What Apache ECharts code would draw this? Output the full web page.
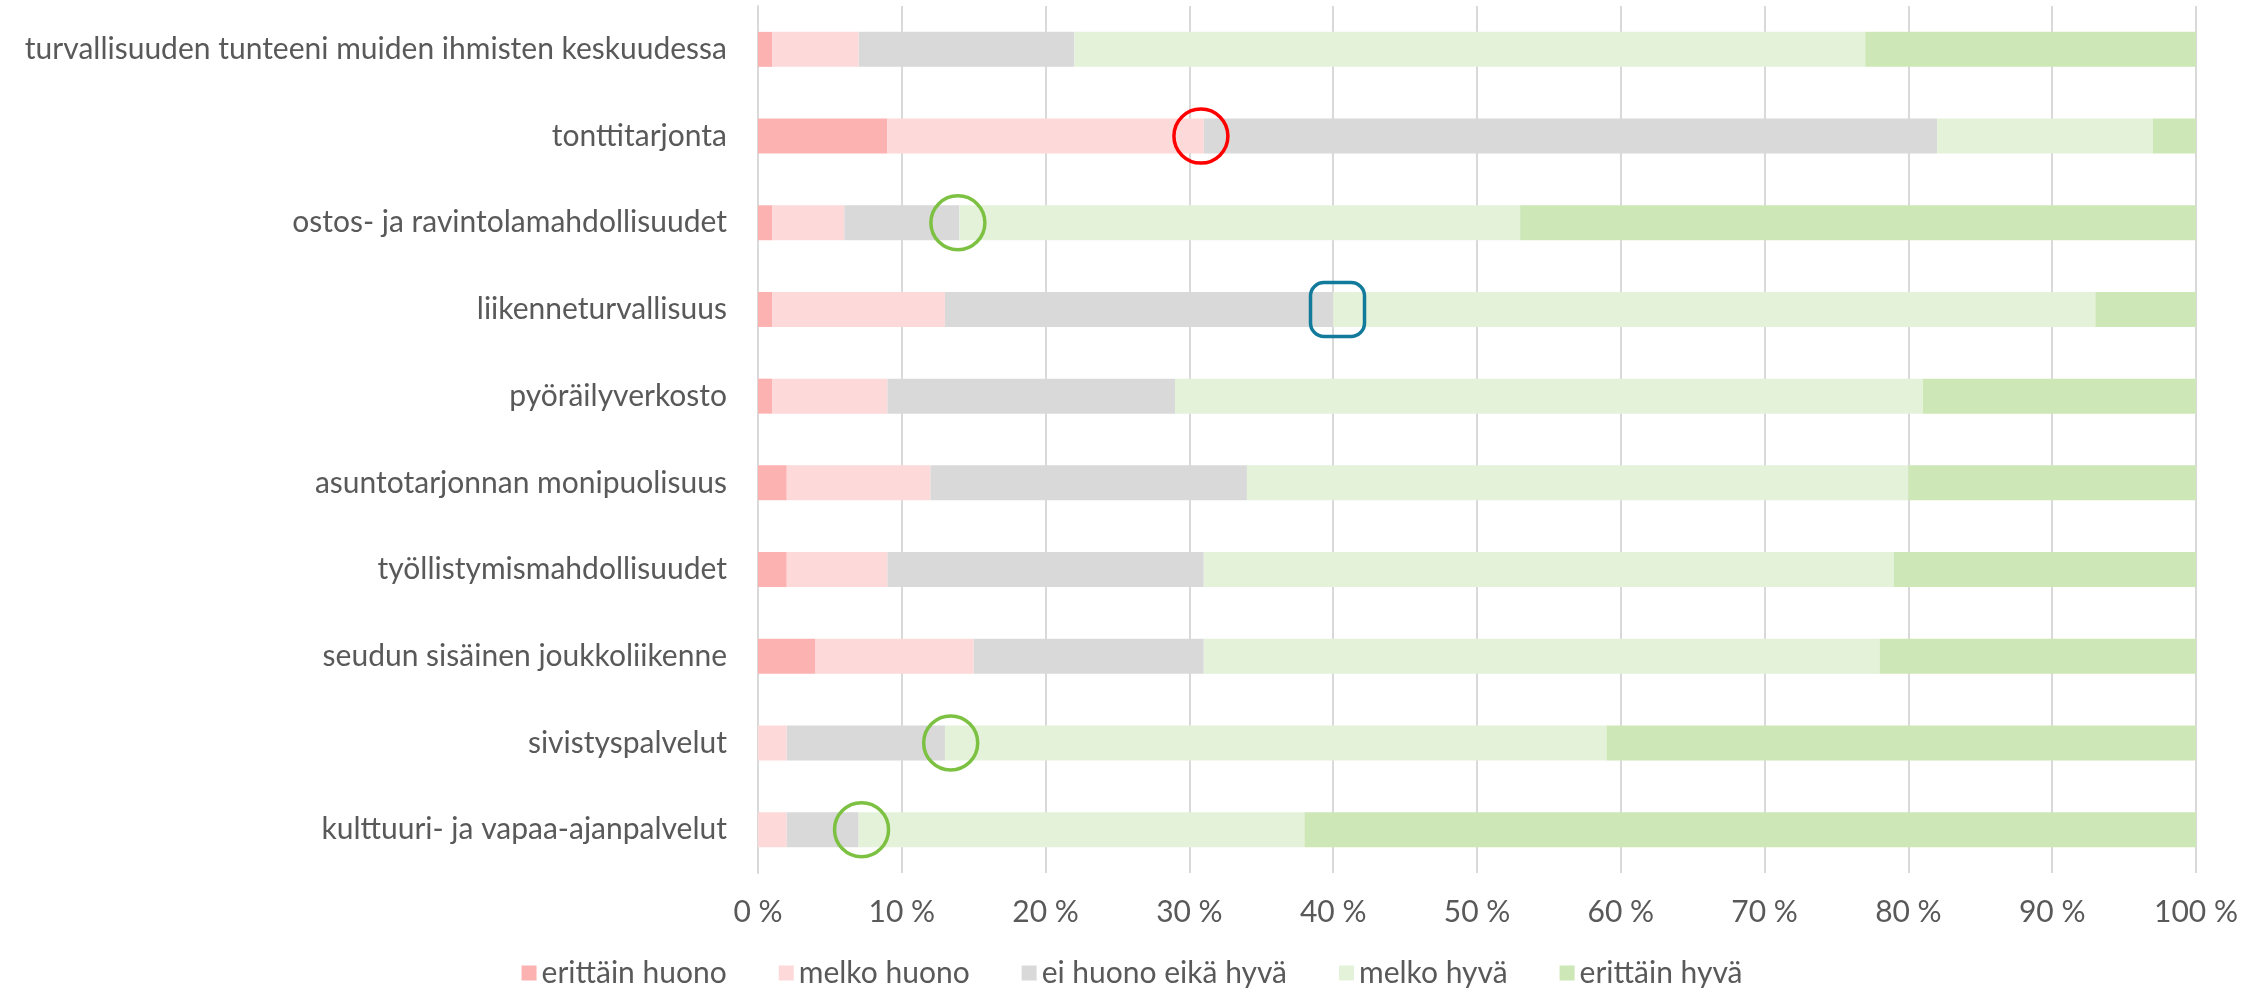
<!DOCTYPE html>
<html>
<head>
<meta charset="utf-8">
<script src="https://cdn.jsdelivr.net/npm/echarts@6/dist/echarts.min.js"></script>
<style>
  html, body { margin: 0; padding: 0; background: #fff; }
  #chart { width: 2264px; height: 990px; }
</style>
</head>
<body>
<div id="chart"></div>
<script>
// kategoriat ylhäältä alas
var categories = [
  'turvallisuuden tunteeni muiden ihmisten keskuudessa',
  'tonttitarjonta',
  'ostos- ja ravintolamahdollisuudet',
  'liikenneturvallisuus',
  'pyöräilyverkosto',
  'asuntotarjonnan monipuolisuus',
  'työllistymismahdollisuudet',
  'seudun sisäinen joukkoliikenne',
  'sivistyspalvelut',
  'kulttuuri- ja vapaa-ajanpalvelut'
]

// osuudet prosentteina
var erittainHuono = [1, 9, 1, 1, 1, 2, 2, 4, 0, 0]
var melkoHuono    = [6, 22, 5, 12, 8, 10, 7, 11, 2, 2]
var eiHuonoEikaHyva = [15, 51, 8, 27, 20, 22, 22, 16, 11, 5]
var melkoHyva     = [55, 15, 39, 53, 52, 46, 48, 47, 46, 31]
var erittainHyva  = [23, 3, 47, 7, 19, 20, 21, 22, 41, 62]

var xTicks = [0, 10, 20, 30, 40, 50, 60, 70, 80, 90, 100]

// merkinnät: [x-arvo, kategoria, muoto, väri]
var marks = [
  [30.8, 'tonttitarjonta', 'circle', '#FF0000'],
  [13.9, 'ostos- ja ravintolamahdollisuudet', 'circle', '#7DC142'],
  [40.3, 'liikenneturvallisuus', 'roundRect', '#127A9A'],
  [13.4, 'sivistyspalvelut', 'circle', '#7DC142'],
  [7.2, 'kulttuuri- ja vapaa-ajanpalvelut', 'circle', '#7DC142']
]

var font = 'Lato, "Open Sans", sans-serif'
var colors = {
  'erittäin huono': '#FDB2B2',
  'melko huono': '#FDD9D9',
  'ei huono eikä hyvä': '#D9D9D9',
  'melko hyvä': '#E5F2DA',
  'erittäin hyvä': '#CDE7B6'
}

function serie(name, data) {
  return {
    name: name,
    type: 'bar',
    stack: 'total',
    barWidth: 35,
    data: data,
    itemStyle: { color: colors[name] },
    emphasis: { disabled: true }
  }
}

var chart = echarts.init(document.getElementById('chart'))
var seriesList = [
  serie('erittäin huono', erittainHuono),
  serie('melko huono', melkoHuono),
  serie('ei huono eikä hyvä', eiHuonoEikaHyva),
  serie('melko hyvä', melkoHyva),
  serie('erittäin hyvä', erittainHyva)
]

// ympyrät ja laatikko piirretään viimeisen sarjan markPointeina
seriesList[4].markPoint = {
  silent: true,
  animation: false,
  label: { show: false },
  data: marks.map(function (m) {
    return {
      coord: [m[0], m[1]],
      symbol: m[2],
      symbolSize: 54,
      itemStyle: {
        color: 'rgba(0,0,0,0)',
        borderColor: m[3],
        borderWidth: 3.5
      }
    }
  })
}

var option = {
  animation: false,
  textStyle: { fontFamily: font },
  legend: {
    data: Object.keys(colors),
    bottom: -3,
    left: 'center',
    itemWidth: 15,
    itemHeight: 15,
    itemGap: 52,
    icon: 'rect',
    textStyle: { color: '#595959', fontSize: 30, fontFamily: font }
  },
  grid: {
    left: 758,
    right: 68,
    top: 6,
    bottom: 117
  },
  xAxis: {
    type: 'value',
    min: 0,
    max: 100,
    interval: 10,
    axisLine: { show: false },
    axisTick: { show: false },
    splitLine: { lineStyle: { color: '#D9D9D9', width: 2 } },
    axisLabel: {
      color: '#595959',
      fontSize: 30,
      margin: 24,
      formatter: function (v) { return xTicks.indexOf(v) >= 0 ? v + ' %' : '' }
    }
  },
  yAxis: {
    type: 'category',
    inverse: true,
    data: categories,
    axisLine: { show: true, lineStyle: { color: '#D9D9D9', width: 2 } },
    axisTick: { show: false },
    axisLabel: { color: '#595959', fontSize: 30, margin: 31 }
  },
  series: seriesList
}
chart.setOption(option)
</script>
</body>
</html>
